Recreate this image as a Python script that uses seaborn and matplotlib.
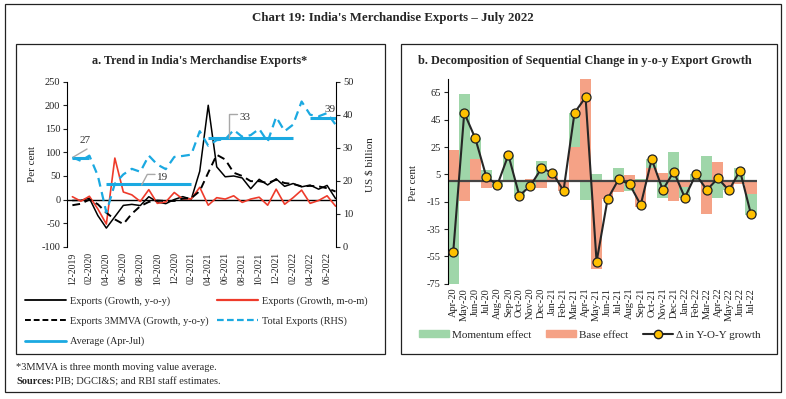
import numpy as np
import pandas as pd
import matplotlib.pyplot as plt
import seaborn as sns
from matplotlib.patches import Rectangle, Patch
from matplotlib.lines import Line2D

# ---- panel a data (Dec-2019 .. Jul-2022) ----
months_a = ["12-2019", "01-2020", "02-2020", "03-2020", "04-2020", "05-2020", "06-2020", "07-2020",
            "08-2020", "09-2020", "10-2020", "11-2020", "12-2020", "01-2021", "02-2021", "03-2021",
            "04-2021", "05-2021", "06-2021", "07-2021", "08-2021", "09-2021", "10-2021", "11-2021",
            "12-2021", "01-2022", "02-2022", "03-2022", "04-2022", "05-2022", "06-2022", "07-2022"]
yoy = [-2, -1.7, 2.9, -34, -60.5, -36.5, -12.4, -10.2, -12.7, 6, -5.1, -8.7, 0.1, 6.2, 0.7, 60,
       200, 69.4, 48.3, 50, 45.8, 23, 43, 31, 44, 28, 34, 27, 30.7, 22, 30, 2]
mom = [6, -3.5, 7, -20, -52, 88, 16, 10, -4, 21, -8, -5, 15, 1, 1.5, 26,
       -12, 4, 1, 8, -6, 1, 5, -12, 22, -10, 4, 20, -8, -2, 8, -14]
mmva = [-12, -9, 0, -10, -28, -42, -52, -30, -14, -5, -2, -3, -3, 2, 3, 18,
        57, 95, 85, 57, 50, 39, 39, 35, 42, 35, 33, 28, 29, 28, 24, 17]
total = [27.1, 26, 27.6, 21.5, 10.4, 19.1, 21.9, 23.6, 22.7, 27.6, 24.9, 23.5, 27.2, 27.5, 27.9, 35,
         30.6, 32.3, 32.5, 35.4, 33.3, 33.8, 35.7, 31.8, 39.3, 35, 37, 44, 40, 39.5, 40.5, 37]
avg_apr_jul = [27, 27, 27, np.nan] + [19] * 11 + [np.nan] + [33] * 11 + [np.nan] + [39] * 4
avg_labels = ["27", "19", "33", "39"]

# ---- panel b data (Apr-20 .. Jul-22) ----
months_b = ["Apr-20", "May-20", "Jun-20", "Jul-20", "Aug-20", "Sep-20", "Oct-20", "Nov-20",
            "Dec-20", "Jan-21", "Feb-21", "Mar-21", "Apr-21", "May-21", "Jun-21", "Jul-21",
            "Aug-21", "Sep-21", "Oct-21", "Nov-21", "Dec-21", "Jan-22", "Feb-22", "Mar-22",
            "Apr-22", "May-22", "Jun-22", "Jul-22"]
base = [23, -14.5, 16.5, -5, 1.2, 1, 0, 1.7, -5.2, 4, -7.5, 25, 75, -64, -13, -7.7,
        4.5, -19, 9.4, 5.8, -14.3, -4, 0, -24.2, 13.8, -4, -2, -9.4]
momentum = [-75, 64, 15, 8, -4, 18, -10.5, -5, 14.8, 2, 0.5, 25, -14, 5, 0, 9.4,
            -7, 1.5, 6.6, -12, 21.1, -8, 5.5, 18.4, -12, -2.5, 9.5, -15]
delta = [-52, 50, 31.4, 3.3, -2.8, 19.2, -10.6, -3.3, 9.4, 6.2, -7, 50, 61.4, -58.9, -13, 1.4,
         -2.3, -17.4, 16, -6.4, 7, -12, 5, -6.4, 2.1, -6.7, 7.7, -24.2]

df_a = pd.DataFrame({"idx": np.arange(len(months_a)), "month": months_a, "yoy": yoy, "mom": mom,
                     "mmva": mmva, "total": total, "avg": avg_apr_jul})
df_b = pd.DataFrame({"idx": np.arange(len(months_b)), "month": months_b, "base": base,
                     "momentum": momentum, "delta": delta})

sns.set_style("ticks")
plt.rcParams["font.family"] = ["Liberation Serif", "DejaVu Serif"]
plt.rcParams["axes.linewidth"] = 0.8
plt.rcParams["axes.edgecolor"] = "black"
plt.rcParams["axes.unicode_minus"] = False

W, H = 786, 399
fig = plt.figure(figsize=(W / 100, H / 100), dpi=100)


def px_box(x0, y0, x1, y1):
    return [x0 / W, 1 - y1 / H, (x1 - x0) / W, (y1 - y0) / H]


def fx(x):
    return x / W


def fy(y):
    return 1 - y / H


# frames
for x0, y0, x1, y1 in [(5, 4, 781, 392), (16, 44, 385, 354), (401, 44, 777, 354)]:
    fig.patches.append(Rectangle((fx(x0), fy(y1)), (x1 - x0) / W, (y1 - y0) / H,
                                 transform=fig.transFigure, fill=False, lw=0.9, ec="#222222"))

fig.text(fx(393), fy(18), "Chart 19: India's Merchandise Exports \u2013 July 2022",
         ha="center", va="center", fontsize=9.3, fontweight="bold")
fig.text(fx(200), fy(61), "a. Trend in India's Merchandise Exports*",
         ha="center", va="center", fontsize=8.7, fontweight="bold")
fig.text(fx(585), fy(61), "b. Decomposition of Sequential Change in y-o-y Export Growth",
         ha="center", va="center", fontsize=8.8, fontweight="bold")

# ---------------- panel a ----------------
ax = fig.add_axes(px_box(67.3, 81.7, 336, 246.7))
ax2 = ax.twinx()
blue = "#1BA9E1"
red = "#EE3B2B"

sns.lineplot(data=df_a, x="idx", y="yoy", ax=ax, color="black", lw=1.1)
sns.lineplot(data=df_a, x="idx", y="mom", ax=ax, color=red, lw=1.2)
sns.lineplot(data=df_a, x="idx", y="mmva", ax=ax, color="black", lw=1.4, linestyle=(0, (4, 2.5)))
sns.lineplot(data=df_a, x="idx", y="total", ax=ax2, color=blue, lw=1.6, linestyle=(0, (4, 2.5)))
seg = df_a["avg"].isna().cumsum()
for _, part in df_a[df_a["avg"].notna()].groupby(seg[df_a["avg"].notna()]):
    ax2.plot(part["idx"], part["avg"], color=blue, lw=2.2, solid_capstyle="butt")
ax.axhline(0, color="black", lw=1.0, zorder=1)

ax.set_xlim(-0.6, 31.05)
ax.set_ylim(-100, 250)
ax.set_yticks(range(-100, 251, 50))
ax2.set_ylim(0, 50)
ax2.set_yticks(range(0, 51, 10))
ax.set_xticks(range(0, len(months_a), 2))
ax.set_xticklabels(months_a[::2], rotation=90)
ax.tick_params(axis="x", length=0, pad=4, labelsize=7, colors="#222222")
ax.tick_params(axis="y", length=3, width=0.8, labelsize=7.5, pad=2, colors="#222222")
ax2.tick_params(axis="y", length=3, width=0.8, labelsize=7.5, pad=2, colors="#222222")
for a in (ax, ax2):
    a.set_xlabel("")
    a.spines["top"].set_visible(False)
    a.spines["bottom"].set_visible(False)
ax.spines["right"].set_visible(False)
ax2.spines["left"].set_visible(False)
ax.set_ylabel("Per cent", fontsize=8)
ax.yaxis.set_label_coords(-0.114, 0.5)
ax2.set_ylabel("US $ billion", fontsize=8)
ax2.yaxis.set_label_coords(1.108, 0.5)

grey = "#A8A8A8"
txt = "#333333"
# leader lines and labels for the averages
ax2.plot([0.13, 1.72], [27.2, 29.6], color=grey, lw=1)
ax2.text(1.48, 32.2, avg_labels[0], ha="center", va="center", fontsize=8, color=txt)
ax2.plot([8.16, 8.82, 9.73], [18.7, 21.9, 21.9], color=grey, lw=1)
ax2.text(10.67, 21.1, avg_labels[1], ha="center", va="center", fontsize=8, color=txt)
ax2.plot([18.45, 18.45, 19.35], [32.8, 40.1, 40.1], color=grey, lw=1)
ax2.text(20.33, 39.3, avg_labels[2], ha="center", va="center", fontsize=8, color=txt)
ax2.text(30.3, 41.7, avg_labels[3], ha="center", va="center", fontsize=8, color=txt)

handles_a = [Line2D([], [], color="black", lw=1.3),
             Line2D([], [], color="black", lw=1.4, linestyle=(0, (3, 1.5))),
             Line2D([], [], color=blue, lw=2),
             Line2D([], [], color=red, lw=1.6),
             Line2D([], [], color=blue, lw=1.6, linestyle=(0, (3, 1.5)))]
labels_a = ["Exports (Growth, y-o-y)", "Exports 3MMVA (Growth, y-o-y)", "Average (Apr-Jul)",
            "Exports (Growth, m-o-m)", "Total Exports (RHS)"]
fig.legend(handles_a, labels_a, ncol=2, loc="upper left", bbox_to_anchor=(fx(25), fy(296)),
           frameon=False, fontsize=7.4, handlelength=4.0, handletextpad=0.4,
           columnspacing=0.8, labelspacing=1.05, borderpad=0, borderaxespad=0)

# ---------------- panel b ----------------
bx = fig.add_axes(px_box(447.7, 78.7, 756.5, 283.7))
green = "#9FD6A9"
salmon = "#F5A286"
mom_bottom = [b if np.sign(m) == np.sign(b) else 0 for m, b in zip(momentum, base)]
bx.bar(df_b["idx"], df_b["base"], width=1.0, color=salmon, lw=0, zorder=1)
bx.bar(df_b["idx"], df_b["momentum"], bottom=mom_bottom, width=1.0, color=green, lw=0, zorder=1)
bx.axhline(0, color="#444444", lw=1.6, zorder=2)
sns.lineplot(data=df_b, x="idx", y="delta", ax=bx, color="#262626", lw=1.5, marker="o",
             markersize=6.5, markerfacecolor="#FFC000", markeredgecolor="#222222",
             markeredgewidth=0.9, zorder=3)

bx.set_xlim(-0.5, len(months_b) - 0.5)
bx.set_ylim(-75, 75)
bx.set_yticks(range(-75, 66, 20))
bx.set_xticks(range(len(months_b)))
bx.set_xticklabels(months_b, rotation=90)
bx.tick_params(axis="x", length=0, pad=3, labelsize=7.5, colors="#222222")
bx.tick_params(axis="y", length=3, width=0.8, labelsize=7.5, pad=2, colors="#222222")
bx.set_xlabel("")
bx.set_ylabel("Per cent", fontsize=8)
bx.yaxis.set_label_coords(-0.096, 0.49)
for s in ("top", "right", "bottom"):
    bx.spines[s].set_visible(False)

handles_b = [Patch(color=green), Patch(color=salmon),
             Line2D([], [], color="#262626", lw=1.5, marker="o", markersize=6,
                    markerfacecolor="#FFC000", markeredgecolor="#222222")]
labels_b = ["Momentum effect", "Base effect", "\u0394 in Y-O-Y growth"]
fig.legend(handles_b, labels_b, ncol=3, loc="center left", bbox_to_anchor=(fx(419), fy(335)),
           frameon=False, fontsize=8, handlelength=2.7, handleheight=0.6, handletextpad=0.3,
           columnspacing=1.3, borderpad=0, borderaxespad=0)

# footnotes
fig.text(fx(16), fy(368), "*3MMVA is three month moving value average.", fontsize=7.5, va="center")
fig.text(fx(16), fy(381.5), "Sources:", fontsize=7.5, va="center", fontweight="bold")
fig.text(fx(55), fy(381.5), "PIB; DGCI&S; and RBI staff estimates.", fontsize=7.5, va="center")

fig.savefig("out.png", dpi=100)
